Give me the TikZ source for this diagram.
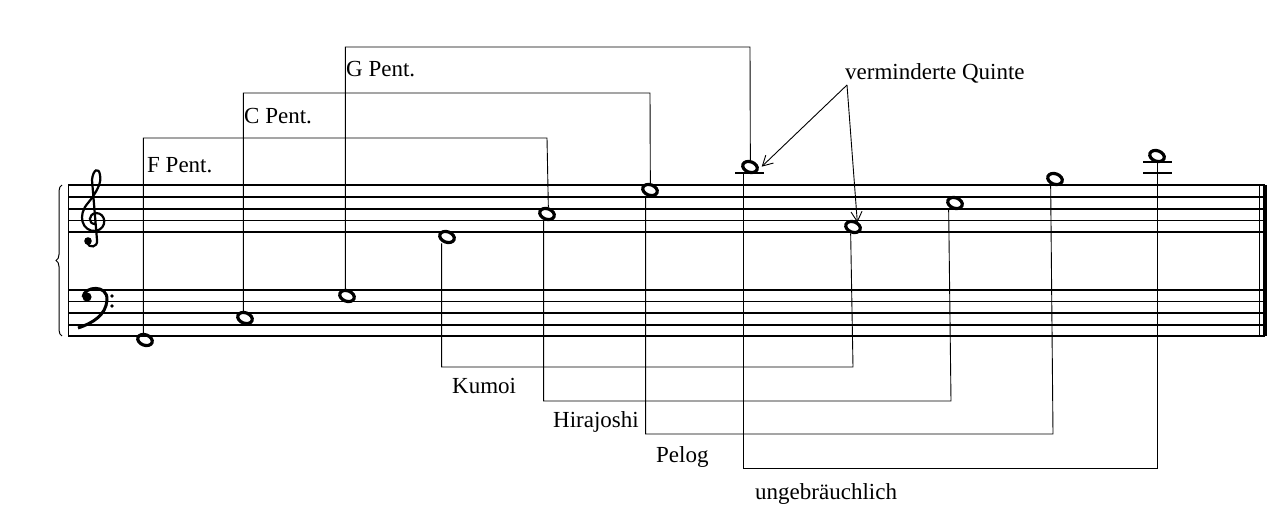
\documentclass[tikz,border=0pt]{standalone}
\usepackage{fontspec}
\setmainfont{Liberation Serif}
\usetikzlibrary{shapes.geometric,arrows.meta,decorations.pathreplacing}
\begin{document}
\begin{tikzpicture}[x=1pt,y=-1pt,
  staffline/.style={line width=1.1pt},
  notehead/.style={ellipse,draw,line width=3.2pt,minimum width=15pt,minimum height=10.5pt,inner sep=0pt,rotate=-20},
  link/.style={line width=0.9pt},
  lbl/.style={font=\fontsize{23}{25}\selectfont,anchor=base west,inner sep=0pt},
  arr/.style={line width=0.9pt,-{Straight Barb[length=10pt,width=11pt]}}]
\useasboundingbox (0,0) rectangle (1280,516);
% staves
\foreach \y in {185,197,209,220.5,232,290,301.5,313,325,336}
  \draw[staffline] (68,\y) -- (1265,\y);
\draw[line width=1pt] (68,185) -- (68,336);
\draw[line width=1pt] (1259,185) -- (1259,336);
\draw[line width=4pt] (1265,185) -- (1265,336);
\draw[decorate,decoration={brace,amplitude=6pt},line width=1pt] (62,336) -- (62,185);
% treble clef
\draw[line width=2.2pt] (95,224) .. controls (88,224) and (88,214) .. (96,213) .. controls (106,213) and (108,228) .. (96,231) .. controls (82,232) and (77,215) .. (88,203) .. controls (96,193) and (102,183) .. (100,175) .. controls (99,167) and (93,169) .. (92,180) -- (97,240) .. controls (98,248) and (89,248) .. (87,243);
\fill (88,241) circle (3.8pt);
% bass clef
\fill (87,297) circle (4.6pt);
\draw[line width=3pt] (83,297) .. controls (84,286) and (108,284) .. (107,300) .. controls (106,315) and (93,323) .. (78,328);
\fill (112,296) circle (1.9pt) (112,306) circle (1.9pt);
% ledger lines
\draw[staffline] (735,173) -- (764,173);
\draw[staffline] (1143,173) -- (1172,173);
\draw[staffline] (1143,162) -- (1172,162);
% notes
\node[notehead] (n1) at (145,340) {};
\node[notehead] (n2) at (245,318) {};
\node[notehead] (n3) at (347,296) {};
\node[notehead] (n4) at (447,237) {};
\node[notehead] (n5) at (547,214) {};
\node[notehead] (n6) at (650,190) {};
\node[notehead] (n7) at (750,167) {};
\node[notehead] (n8) at (853,227) {};
\node[notehead] (n9) at (955,203) {};
\node[notehead] (n10) at (1055,179) {};
\node[notehead] (n11) at (1157,156) {};
% upper brackets
\draw[link] ([xshift=-4pt]n1.north) |- (547,138) -- ([xshift=-1pt]n5.north);
\draw[link] ([xshift=-4pt]n2.north) |- (650,93) -- ([xshift=-2pt]n6.north);
\draw[link] ([xshift=-4pt]n3.north) |- (750,47) -- ([xshift=-2pt]n7.north);
\node[lbl] (fp) at (147,172) {F Pent.};
\node[lbl] (cp) at (244,124) {C Pent.};
\node[lbl] (gp) at (346,77) {G Pent.};
% lower brackets
\draw[link] ([xshift=-3pt]n4.south) |- (853,367) -- (n8.south);
\draw[link] ([xshift=-1pt]n5.south) |- (951,401) -- ([xshift=-4pt]n9.south);
\draw[link] ([xshift=-2pt]n6.south) |- (1053,434) -- ([xshift=-2pt]n10.south);
\draw[link] ([xshift=-4pt]n7.south) |- (1157,468) -- (1157,162);
\node[lbl] (ku) at (452,393) {Kumoi};
\node[lbl] (hi) at (553,427) {Hirajoshi};
\node[lbl] (pe) at (656,462) {Pelog};
\node[lbl] (un) at (755,499) {ungebräuchlich};
% annotation
\node[lbl] (vq) at (845,80) {verminderte Quinte};
\coordinate (vs) at (847,85);
\draw[arr] (vs) -- ([xshift=4pt,yshift=-2pt]n7.north east);
\draw[arr] (vs) -- ([xshift=2pt,yshift=-2pt]n8.north);
\end{tikzpicture}
\end{document}
